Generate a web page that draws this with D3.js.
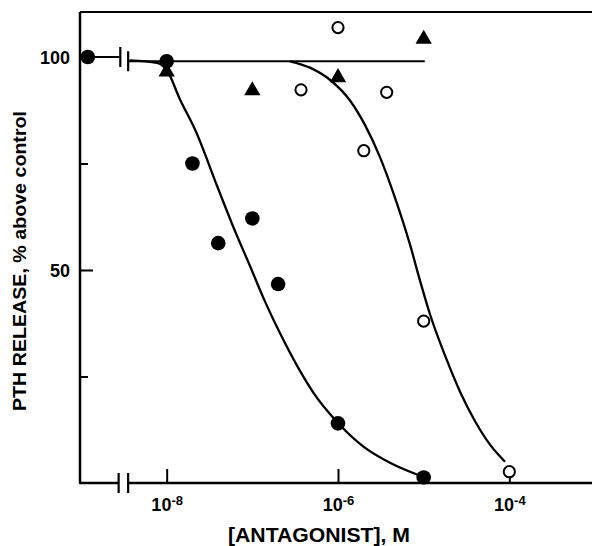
<!DOCTYPE html>
<html>
<head>
<meta charset="utf-8">
<script src="https://cdn.jsdelivr.net/npm/d3@7"></script>
<style>
  body { margin: 0; background: #fff; }
  svg { display: block; }
</style>
</head>
<body>
<svg id="chart" width="592" height="546"></svg>
<script>
// Antagonist concentration (M) and PTH release (% above control)
const concFilled = [1.2e-9, 1e-8, 2e-8, 4e-8, 1e-7, 2e-7, 1e-6, 1e-5];
const pthFilled  = [100, 99, 75, 56.3, 62.1, 46.7, 14, 1.3];

const concOpen = [3.7e-7, 1e-6, 2e-6, 3.7e-6, 1e-5, 1e-4];
const pthOpen  = [92.3, 106.9, 78, 91.7, 38, 2.65];

const concTriangle = [1e-8, 1e-7, 1e-6, 1e-5];
const pthTriangle  = [96.5, 92.1, 95.2, 104.2];

// Fitted inhibition curves
const fitFilledConc = [3.7e-9, 7.7e-9, 1e-8, 1.44e-8, 2.15e-8, 3.9e-8, 6e-8, 9.5e-8, 1.35e-7, 2.1e-7, 3.4e-7, 5.2e-7, 1e-6, 2e-6, 4.1e-6, 1e-5];
const fitFilledPth  = [99.2, 98.6, 97, 89.9, 82.9, 69.6, 60.1, 50.7, 43.4, 35.2, 27.2, 21.1, 14.1, 8.5, 4.7, 1.4];

const fitOpenConc = [2.75e-7, 4.7e-7, 8.1e-7, 1.38e-6, 2.07e-6, 3.09e-6, 4.62e-6, 6.92e-6, 9.06e-6, 1.19e-5, 1.77e-5, 2.65e-5, 3.98e-5, 5.95e-5, 8.9e-5];
const fitOpenPth  = [99, 97.5, 94.6, 89.8, 84, 76.5, 67, 56, 47.5, 39.5, 30, 21.5, 14.5, 9, 5];

// Plateau line (no effect) with a control stub left of the axis break
const plateauControl = [1.2e-9, 2.8e-9];
const plateauLevel   = [100, 99];
const plateauConc    = [3.6e-9, 1.03e-5];
const axisBreak      = [2.75e-9, 3.55e-9];

const yTicksMajor = [100, 50];
const yTicksMinor = [75, 25];
const xTicks = [1e-8, 1e-6, 1e-4];
const xTickExponents = ["-8", "-6", "-4"];

const font = "'Liberation Sans', Arial, Helvetica, sans-serif";
const svg = d3.select("#chart");
const frame = { left: 80, top: 12, right: 592, bottom: 483 };

const x = d3.scaleLog().domain([1e-9, 1e-3]).range([81, 595]);
const y = d3.scaleLinear().domain([0, 100]).range([483, 57]);

svg.append("rect").attr("width", 592).attr("height", 546).attr("fill", "#fff");

// Frame: left axis, top rule, broken bottom axis
const frameG = svg.append("g").attr("stroke", "#000").attr("fill", "none");
frameG.append("line")
  .attr("x1", frame.left).attr("x2", frame.left)
  .attr("y1", frame.top).attr("y2", frame.bottom)
  .attr("stroke-width", 2.5);
frameG.append("line")
  .attr("x1", frame.left).attr("x2", frame.right)
  .attr("y1", frame.top).attr("y2", frame.top)
  .attr("stroke-width", 2.2);
frameG.append("line")
  .attr("x1", frame.left - 1).attr("x2", x(axisBreak[0]))
  .attr("y1", frame.bottom).attr("y2", frame.bottom)
  .attr("stroke-width", 2.5);
frameG.append("line")
  .attr("x1", x(axisBreak[1])).attr("x2", frame.right)
  .attr("y1", frame.bottom).attr("y2", frame.bottom)
  .attr("stroke-width", 2.5);
axisBreak.forEach(c => {
  frameG.append("line")
    .attr("x1", x(c)).attr("x2", x(c))
    .attr("y1", frame.bottom - 10).attr("y2", frame.bottom + 10)
    .attr("stroke-width", 2.2);
});

// Y axis ticks (inward)
const yMajor = svg.append("g").attr("transform", `translate(${frame.left},0)`)
  .call(d3.axisLeft(y).tickValues(yTicksMajor).tickSizeInner(-13).tickSizeOuter(0).tickPadding(10).tickFormat(d3.format("d")));
const yMinor = svg.append("g").attr("transform", `translate(${frame.left},0)`)
  .call(d3.axisLeft(y).tickValues(yTicksMinor).tickSizeInner(-8).tickSizeOuter(0).tickFormat(""));
[yMajor, yMinor].forEach(g => {
  g.select(".domain").remove();
  g.selectAll(".tick line").attr("stroke", "#000").attr("stroke-width", 2);
});
yMajor.selectAll(".tick text")
  .attr("font-family", font).attr("font-size", 18).attr("font-weight", "bold")
  .attr("fill", "#000").attr("dy", "0.36em");

// X axis ticks (inward) with power-of-ten labels
const xAxisG = svg.append("g").attr("transform", `translate(0,${frame.bottom})`)
  .call(d3.axisBottom(x).tickValues(xTicks).tickSizeInner(-14).tickSizeOuter(0).tickFormat(""));
xAxisG.select(".domain").remove();
xAxisG.selectAll(".tick line").attr("stroke", "#000").attr("stroke-width", 2);
xAxisG.selectAll(".tick text").remove();
xAxisG.selectAll(".tick").each(function(d, i) {
  const t = d3.select(this).append("text")
    .attr("y", 28).attr("text-anchor", "middle")
    .attr("font-family", font).attr("font-size", 18).attr("font-weight", "bold").attr("fill", "#000");
  t.append("tspan").attr("font-size", 18).text("10");
  t.append("tspan").attr("font-size", 13).attr("dy", -6).text(xTickExponents[i]);
});

// Plateau line
const line = d3.line().x(d => x(d[0])).y(d => y(d[1]));
svg.append("path")
  .attr("d", line(plateauControl.map(c => [c, plateauLevel[0]])))
  .attr("stroke", "#000").attr("stroke-width", 2.2).attr("fill", "none");
svg.append("path")
  .attr("d", line(plateauConc.map(c => [c, plateauLevel[1]])))
  .attr("stroke", "#000").attr("stroke-width", 2.2).attr("fill", "none");
plateauControl.slice(1).concat(plateauConc.slice(0, 1)).forEach((c, i) => {
  svg.append("line")
    .attr("x1", x(c) + (i === 0 ? 1 : -0.5)).attr("x2", x(c) + (i === 0 ? 1 : -0.5))
    .attr("y1", y(plateauLevel[i]) - 10).attr("y2", y(plateauLevel[i]) + 10)
    .attr("stroke", "#000").attr("stroke-width", 2.2);
});

// Fitted curves
const smooth = d3.line().x(d => x(d[0])).y(d => y(d[1])).curve(d3.curveMonotoneX);
svg.append("path")
  .attr("d", smooth(fitFilledConc.map((c, i) => [c, fitFilledPth[i]])))
  .attr("stroke", "#000").attr("stroke-width", 2.3).attr("fill", "none");
svg.append("path")
  .attr("d", smooth(fitOpenConc.map((c, i) => [c, fitOpenPth[i]])))
  .attr("stroke", "#000").attr("stroke-width", 2.3).attr("fill", "none");

// Markers
svg.append("g").selectAll("path")
  .data(concTriangle.map((c, i) => [c, pthTriangle[i]]))
  .join("path")
  .attr("transform", d => `translate(${x(d[0])},${y(d[1])})`)
  .attr("d", d3.symbol(d3.symbolTriangle, 115))
  .attr("fill", "#000");

svg.append("g").selectAll("circle")
  .data(concFilled.map((c, i) => [c, pthFilled[i]]))
  .join("circle")
  .attr("cx", d => x(d[0])).attr("cy", d => y(d[1])).attr("r", 7.3)
  .attr("fill", "#000");

svg.append("g").selectAll("circle")
  .data(concOpen.map((c, i) => [c, pthOpen[i]]))
  .join("circle")
  .attr("cx", d => x(d[0])).attr("cy", d => y(d[1])).attr("r", 5.6)
  .attr("fill", "#fff").attr("stroke", "#000").attr("stroke-width", 2);

// Axis titles
svg.append("text")
  .attr("transform", "translate(26,261) rotate(-90)")
  .attr("text-anchor", "middle")
  .attr("font-family", font).attr("font-size", 19).attr("font-weight", "bold")
  .attr("textLength", 300).attr("lengthAdjust", "spacingAndGlyphs")
  .attr("fill", "#000")
  .text("PTH RELEASE, % above control");

svg.append("text")
  .attr("x", 319).attr("y", 542)
  .attr("text-anchor", "middle")
  .attr("font-family", font).attr("font-size", 20).attr("font-weight", "bold")
  .attr("textLength", 182).attr("lengthAdjust", "spacingAndGlyphs")
  .attr("fill", "#000")
  .text("[ANTAGONIST], M");
</script>
</body>
</html>
